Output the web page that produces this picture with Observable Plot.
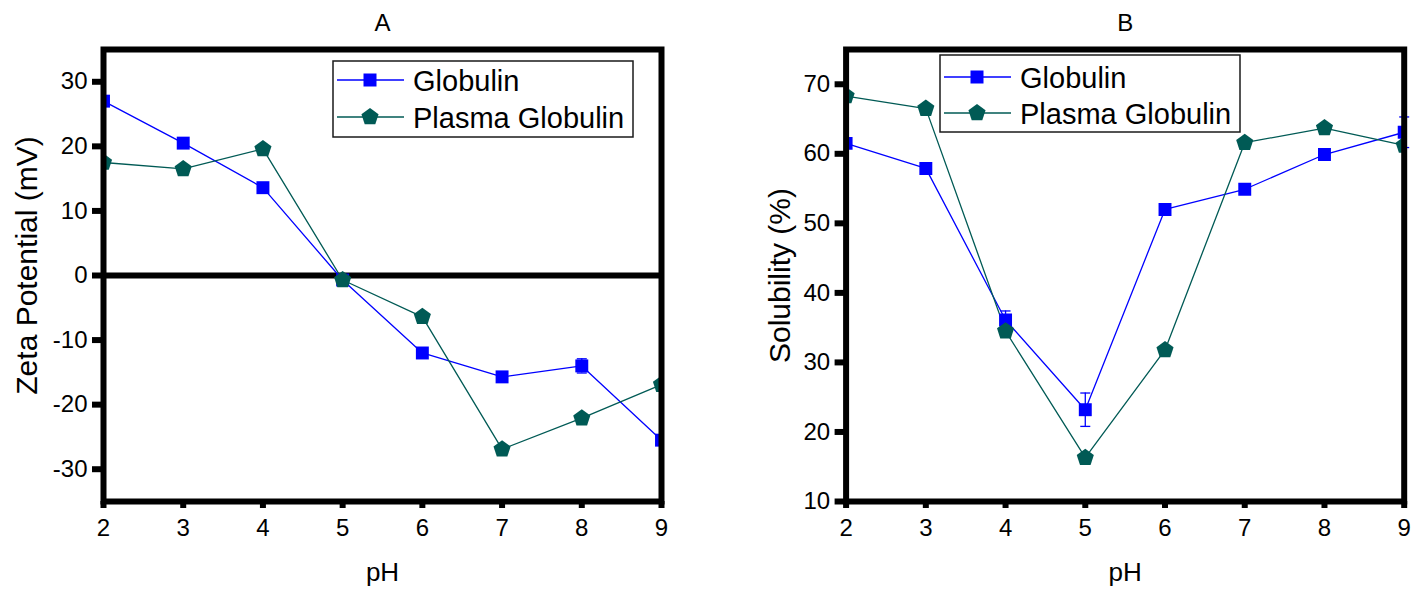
<!DOCTYPE html>
<html><head><meta charset="utf-8">
<script src="https://cdn.jsdelivr.net/npm/d3@7"></script>
<script src="https://cdn.jsdelivr.net/npm/@observablehq/plot@0.6"></script>
<style>
body{margin:0;background:#fff;}
#wrap{position:relative;width:1414px;height:592px;overflow:hidden;font-family:"Liberation Sans",Arial,sans-serif;background:#fff;}
.panel{position:absolute;top:0;}
#legend{position:absolute;left:0;top:0;pointer-events:none;}
</style></head><body>
<div id="wrap"><div id="pa" class="panel" style="left:0"></div><div id="pb" class="panel" style="left:707px"></div></div>
<script>
// ---- data ----
const pH = [2, 3, 4, 5, 6, 7, 8, 9];
const zetaGlobulin = [27.0, 20.5, 13.6, -0.7, -12.0, -15.7, -14.0, -25.5];
const zetaPlasma = [17.5, 16.5, 19.6, -0.7, -6.4, -26.9, -22.1, -16.9];
const zetaGlobulinErr = [0, 0, 0, 0, 0, 0, 1.1, 0];
const solGlobulin = [61.5, 57.9, 36.1, 23.2, 52.0, 54.9, 59.9, 63.1];
const solPlasma = [68.3, 66.5, 34.5, 16.3, 31.8, 61.6, 63.7, 61.2];
const solGlobulinErr = [0, 0, 1.3, 2.4, 0, 0, 0, 2.2];
const zetaTicks = [-30, -20, -10, 0, 10, 20, 30];
const solTicks = [10, 20, 30, 40, 50, 60, 70];
const seriesNames = ["Globulin", "Plasma Globulin"];
const panelTitles = ["A", "B"];
const xLabel = "pH";
const yLabels = ["Zeta Potential (mV)", "Solubility (%)"];

const BLUE = "#0000ff";
const TEAL = "#005a55";
const FONT = "'Liberation Sans', Arial, sans-serif";

const pentagon = {draw(ctx, size) {
  const R = Math.sqrt(size / Math.PI);
  for (let k = 0; k < 5; k++) {
    const a = -Math.PI / 2 + k * 2 * Math.PI / 5;
    const px = R * Math.cos(a), py = R * Math.sin(a);
    if (k) ctx.lineTo(px, py); else ctx.moveTo(px, py);
  }
  ctx.closePath();
}};
const cap = {draw(ctx, size) {
  const w = Math.sqrt(size / Math.PI);
  ctx.moveTo(-w, 0); ctx.lineTo(w, 0);
}};

function panel(o) {
  const G = pH.map((x, i) => ({x, y: o.gl[i], e: o.err[i]}));
  const P = pH.map((x, i) => ({x, y: o.pl[i]}));
  const E = G.filter(d => d.e > 0);
  const caps = E.flatMap(d => [{x: d.x, y: d.y + d.e}, {x: d.x, y: d.y - d.e}]);
  const marks = [
    o.zero ? Plot.ruleY([0], {stroke: "black", strokeWidth: 6}) : null,
    Plot.line(G, {x: "x", y: "y", stroke: BLUE, strokeWidth: 1.3}),
    Plot.line(P, {x: "x", y: "y", stroke: TEAL, strokeWidth: 1.3}),
    Plot.ruleX(E, {x: "x", y1: d => d.y - d.e, y2: d => d.y + d.e, stroke: BLUE, strokeWidth: 1.3}),
    Plot.dot(caps, {x: "x", y: "y", symbol: cap, r: 5, stroke: BLUE, strokeWidth: 1.3, fill: "none"}),
    Plot.dot(G, {x: "x", y: "y", symbol: "square", r: 7.3, fill: BLUE, stroke: "none", clip: true}),
    Plot.dot(P, {x: "x", y: "y", symbol: pentagon, r: 9, fill: TEAL, stroke: "none", clip: true}),
    Plot.frame({stroke: "black", strokeWidth: 6}),
    Plot.axisX({ticks: pH, tickSize: 7, tickPadding: 10, strokeWidth: 6, fontSize: 24, label: null, tickFormat: d => String(d)}),
    Plot.axisY({ticks: o.yTicks, tickSize: 11, tickPadding: 5, strokeWidth: 6, fontSize: 24, label: null, tickFormat: d => String(d)}),
    Plot.text([o.title], {frameAnchor: "top", lineAnchor: "top", dy: -36, fontSize: 24}),
    Plot.text([xLabel], {frameAnchor: "bottom", lineAnchor: "top", dy: 61, fontSize: 26}),
    Plot.text([o.ylabel], {frameAnchor: "left", rotate: -90, dx: o.ldx, dy: o.ldy, lineAnchor: "middle", textAnchor: "middle", fontSize: 30})
  ].filter(Boolean);
  return Plot.plot({
    width: 707, height: 592,
    marginLeft: o.ml, marginRight: o.mr, marginTop: 49, marginBottom: 91,
    x: {domain: [2, 9]},
    y: {domain: o.yDomain},
    style: {fontFamily: FONT, color: "black", background: "white", overflow: "visible"},
    marks
  });
}

document.getElementById("pa").appendChild(panel({
  gl: zetaGlobulin, pl: zetaPlasma, err: zetaGlobulinErr, yDomain: [-35, 35], yTicks: zetaTicks,
  ml: 103, mr: 46, title: panelTitles[0], ylabel: yLabels[0], ldx: -76, ldy: -10, zero: true
}));
document.getElementById("pb").appendChild(panel({
  gl: solGlobulin, pl: solPlasma, err: solGlobulinErr, yDomain: [10, 75], yTicks: solTicks,
  ml: 138.6, mr: 10.3, title: panelTitles[1], ylabel: yLabels[1], ldx: -66, ldy: 0, zero: false
}));

// ---- legends ----
const svg = d3.select("#wrap").append("svg").attr("id", "legend")
  .attr("width", 1414).attr("height", 592).style("font-family", FONT);
function drawLegend(box, rows) {
  svg.append("rect").attr("x", box.x).attr("y", box.y).attr("width", box.w).attr("height", box.h)
    .attr("fill", "white").attr("stroke", "#1a1a1a").attr("stroke-width", 1.5);
  rows.forEach(r => {
    svg.append("line").attr("x1", box.x + 4).attr("x2", box.x + 71).attr("y1", r.cy).attr("y2", r.cy)
      .attr("stroke", r.color).attr("stroke-width", 1.3);
    svg.append("path").attr("d", d3.symbol(r.symbol, r.size)())
      .attr("transform", `translate(${box.x + 37},${r.cy})`).attr("fill", r.color);
    svg.append("text").attr("x", box.x + 80).attr("y", r.cy + 10.5).attr("font-size", 29)
      .attr("fill", "black").text(r.label);
  });
}
const rowDefs = (c1, c2) => [
  {label: seriesNames[0], color: BLUE, symbol: d3.symbolSquare, size: 169, cy: c1},
  {label: seriesNames[1], color: TEAL, symbol: pentagon, size: 81 * Math.PI, cy: c2}
];
drawLegend({x: 333, y: 61, w: 300, h: 76}, rowDefs(80, 117));
drawLegend({x: 940, y: 55, w: 300, h: 77}, rowDefs(77, 113));
</script>
</body></html>
